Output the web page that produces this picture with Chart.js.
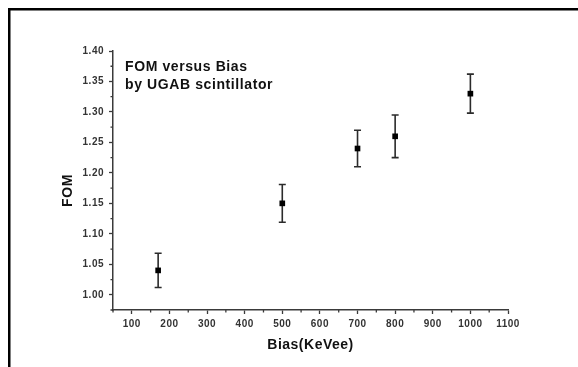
<!DOCTYPE html>
<html>
<head>
<meta charset="utf-8">
<script src="https://cdn.jsdelivr.net/npm/chart.js@4/dist/chart.umd.min.js"></script>
<style>
  html, body { margin: 0; padding: 0; background: #fff; }
  #wrap { position: relative; width: 578px; height: 367px; }
</style>
</head>
<body>
<div id="wrap"><canvas id="c" width="578" height="367"></canvas></div>
<script>
// ---- data ----
const bias = [170, 500, 700, 800, 1000];          // Bias (KeVee)
const fom = [1.04, 1.15, 1.24, 1.26, 1.33];        // FOM
const fomErr = [0.028, 0.031, 0.030, 0.035, 0.032]; // symmetric error
const xTickMin = 50, xTickMax = 1100, xStep = 50;
const yTickMin = 0.975, yTickMax = 1.40, yStep = 0.025;
const noteLines = ['FOM versus Bias', 'by UGAB scintillator'];
const xTitle = 'Bias(KeVee)';
const yTitle = 'FOM';

const points = bias.map((b, i) => ({ x: b, y: fom[i] }));
const FONT = '"Liberation Sans", Arial, sans-serif';
const AXIS = '#3a3a3a';

function isMajorX(v) { return Math.round(v) % 100 === 0 && v >= 100; }
function isMajorY(v) { return Math.round(v * 1000) % 50 === 0; }

const framePlugin = {
  id: 'frame',
  beforeInit(chart) { chart.ctx.letterSpacing = '0.5px'; },
  beforeUpdate(chart) { chart.ctx.letterSpacing = '0.5px'; },
  beforeDraw(chart) {
    const { ctx, width, height } = chart;
    ctx.letterSpacing = '0.5px';
    ctx.save();
    ctx.fillStyle = '#fff';
    ctx.fillRect(0, 0, width, height);
    ctx.strokeStyle = '#000';
    ctx.lineWidth = 2.5;
    ctx.strokeRect(9.25, 9.25, width + 20, height + 20);
    ctx.restore();
  }
};

const errorBarPlugin = {
  id: 'errbars',
  beforeDatasetsDraw(chart) {
    const { ctx, scales: { x, y } } = chart;
    ctx.save();
    ctx.strokeStyle = '#2b2b2b';
    ctx.lineWidth = 1.6;
    bias.forEach((b, i) => {
      const px = x.getPixelForValue(b);
      const top = y.getPixelForValue(fom[i] + fomErr[i]);
      const bot = y.getPixelForValue(fom[i] - fomErr[i]);
      ctx.beginPath();
      ctx.moveTo(px, top); ctx.lineTo(px, bot);
      ctx.moveTo(px - 3.5, top); ctx.lineTo(px + 3.5, top);
      ctx.moveTo(px - 3.5, bot); ctx.lineTo(px + 3.5, bot);
      ctx.stroke();
    });
    ctx.restore();
  }
};

const minorTickPlugin = {
  id: 'minorTicks',
  afterDraw(chart) {
    const { ctx, scales: { x, y }, chartArea } = chart;
    ctx.save();
    ctx.strokeStyle = AXIS;
    ctx.lineWidth = 1.3;
    ctx.beginPath();
    x.ticks.forEach(t => {
      if (!isMajorX(t.value)) {
        const px = x.getPixelForValue(t.value);
        ctx.moveTo(px, chartArea.bottom); ctx.lineTo(px, chartArea.bottom + 2.5);
      }
    });
    y.ticks.forEach(t => {
      if (!isMajorY(t.value)) {
        const py = y.getPixelForValue(t.value);
        ctx.moveTo(chartArea.left, py); ctx.lineTo(chartArea.left - 2.5, py);
      }
    });
    ctx.stroke();

    // annotation text in the upper-left of the plot
    ctx.fillStyle = '#111';
    ctx.font = 'bold 14px ' + FONT;
    ctx.letterSpacing = '0.6px';
    ctx.textAlign = 'left';
    ctx.textBaseline = 'alphabetic';
    noteLines.forEach((s, i) => ctx.fillText(s, chartArea.left + 12, chartArea.top + 20 + i * 18));

    // y-axis title
    ctx.save();
    ctx.translate(chartArea.left - 41, (chartArea.top + chartArea.bottom) / 2 + 10);
    ctx.rotate(-Math.PI / 2);
    ctx.textAlign = 'center';
    ctx.fillText(yTitle, 0, 0);
    ctx.restore();
    ctx.restore();
  }
};

new Chart(document.getElementById('c'), {
  type: 'scatter',
  data: {
    datasets: [{
      data: points,
      pointStyle: 'rect',
      pointRadius: 4,
      pointHoverRadius: 4,
      backgroundColor: '#000',
      borderColor: '#000',
      borderWidth: 0
    }]
  },
  options: {
    responsive: false,
    animation: false,
    devicePixelRatio: 1,
    layout: { padding: { left: 30, top: 51, right: 70, bottom: 0 } },
    plugins: { legend: { display: false }, tooltip: { enabled: false } },
    scales: {
      x: {
        type: 'linear',
        min: xTickMin, max: xTickMax,
        afterFit(s) { s.height = 57; },
        border: { display: true, color: AXIS, width: 1.5 },
        grid: {
          display: true, drawOnChartArea: false, drawTicks: true, tickLength: 4,
          tickColor: ctx => (ctx.tick && isMajorX(ctx.tick.value)) ? AXIS : 'rgba(0,0,0,0)',
          tickWidth: 1.3
        },
        ticks: {
          stepSize: xStep, autoSkip: false, maxRotation: 0, padding: 4,
          color: '#333', font: { family: FONT, size: 10, weight: 'bold' },
          callback: v => isMajorX(v) ? String(v) : ''
        },
        title: {
          display: true, text: xTitle, color: '#111',
          font: { family: FONT, size: 14, weight: 'bold' },
          padding: { top: 13, bottom: 13 }
        }
      },
      y: {
        type: 'linear',
        min: yTickMin, max: yTickMax,
        afterFit(s) { s.width = 83; },
        border: { display: true, color: AXIS, width: 1.5 },
        grid: {
          display: true, drawOnChartArea: false, drawTicks: true, tickLength: 4,
          tickColor: ctx => (ctx.tick && isMajorY(ctx.tick.value)) ? AXIS : 'rgba(0,0,0,0)',
          tickWidth: 1.3
        },
        ticks: {
          stepSize: yStep, autoSkip: false, padding: 5,
          color: '#333', font: { family: FONT, size: 10, weight: 'bold' },
          callback: v => isMajorY(v) ? v.toFixed(2) : ''
        }
      }
    }
  },
  plugins: [framePlugin, errorBarPlugin, minorTickPlugin]
});
</script>
</body>
</html>
